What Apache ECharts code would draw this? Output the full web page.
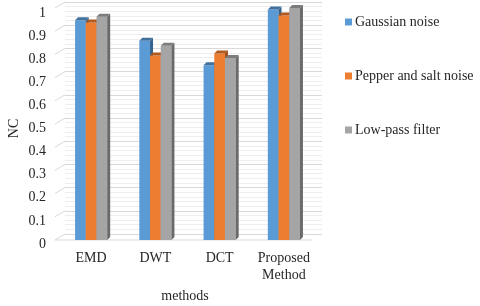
<!DOCTYPE html>
<html><head><meta charset="utf-8">
<script src="https://cdn.jsdelivr.net/npm/echarts@6/dist/echarts.min.js"></script>
<style>html,body{margin:0;padding:0;background:#fff}#c{width:480px;height:306px}</style>
</head><body><div id="c"></div>
<script>
const categories = ['EMD', 'DWT', 'DCT', 'Proposed\nMethod'];
const seriesNames = ['Gaussian noise', 'Pepper and salt noise', 'Low-pass filter'];
const gaussian = [0.947, 0.859, 0.753, 0.993];
const pepperSalt = [0.937, 0.795, 0.804, 0.968];
const lowPass = [0.962, 0.837, 0.785, 1.0];
const yTicks = [0, 0.1, 0.2, 0.3, 0.4, 0.5, 0.6, 0.7, 0.8, 0.9, 1];

const frontColors = ['#5B9BD5', '#ED7D31', '#A5A5A5'];
const topColors = ['#41719C', '#B0591F', '#7C7C7C'];
const sideColors = ['#36648F', '#9E4F1B', '#6A6A6A'];
const FONT = '"Liberation Serif", "Times New Roman", serif';
const TXT = '#262626';
const FS = 14;

function make3D(i) {
  return function (params, api) {
    const cat = api.value(0), val = api.value(1);
    const base = api.coord([cat, 0]);
    const topP = api.coord([cat, val]);
    const band = api.size([1, 0])[0];
    const w = band * 0.5 / 3;
    const x = base[0] - 1.5 * w + i * w;
    const yb = base[1], yt = topP[1];
    const dx = 3, dy = 3;
    return {
      type: 'group', children: [
        { type: 'rect', shape: { x: x, y: yt, width: w, height: yb - yt }, style: { fill: frontColors[i] } },
        { type: 'polygon', shape: { points: [[x, yt], [x + dx, yt - dy], [x + w + dx, yt - dy], [x + w, yt]] }, style: { fill: topColors[i] } },
        { type: 'polygon', shape: { points: [[x + w, yt], [x + w + dx, yt - dy], [x + w + dx, yb - dy], [x + w, yb]] }, style: { fill: sideColors[i] } }
      ]
    };
  };
}

function sideWall(params, api) {
  const v = api.value(1);
  const p = api.coord([0, v]);
  const x0 = params.coordSys.x;
  const children = [
    { type: 'line', shape: { x1: x0 - 4, y1: p[1], x2: x0 + 6, y2: p[1] - 6 }, style: { stroke: '#D9D9D9', lineWidth: 1 } }
  ];
  if (v === 0) {
    children.push({ type: 'line', shape: { x1: x0 - 4, y1: p[1], x2: x0 + params.coordSys.width - 4, y2: p[1] }, style: { stroke: '#D9D9D9', lineWidth: 1 } });
  }
  return { type: 'group', children: children };
}

const allData = [gaussian, pepperSalt, lowPass];
const chart = echarts.init(document.getElementById('c'), null, { renderer: 'canvas' });
chart.setOption({
  animation: false,
  backgroundColor: '#fff',
  textStyle: { fontFamily: FONT },
  grid: [
    { left: 65, right: 158, top: 2, bottom: 72, outerBoundsMode: 'none', containLabel: false },
    { left: 59, right: 164, top: 8, bottom: 66, outerBoundsMode: 'none', containLabel: false },
    { left: 59, right: 164, top: 13, bottom: 62, outerBoundsMode: 'none', containLabel: false }
  ],
  legend: {
    orient: 'vertical', left: 345, top: 15, padding: 0,
    itemWidth: 7, itemHeight: 7, itemGap: 40, icon: 'rect',
    textStyle: { fontFamily: FONT, fontSize: FS, color: TXT, padding: [0, 0, 0, -2] },
    data: seriesNames
  },
  xAxis: [
    { type: 'category', gridIndex: 0, data: categories, show: false },
    {
      type: 'category', gridIndex: 1, data: categories,
      axisLine: { show: false }, axisTick: { show: false },
      axisLabel: { fontFamily: FONT, fontSize: FS, color: TXT, lineHeight: 17, margin: 10, interval: 0 },
      name: 'methods', nameLocation: 'middle', nameGap: 49,
      nameTextStyle: { fontFamily: FONT, fontSize: FS, color: TXT, padding: [0, 5, 0, 0] }
    },
    { type: 'category', gridIndex: 2, data: categories, show: false }
  ],
  yAxis: [
    {
      type: 'value', gridIndex: 0, min: 0, max: 1, interval: 0.1,
      axisLine: { show: false }, axisTick: { show: false }, axisLabel: { show: false },
      splitLine: { lineStyle: { color: '#D9D9D9' } },
      minorTick: { show: false, splitNumber: 5 },
      minorSplitLine: { show: true, lineStyle: { color: '#EEEEEE' } }
    },
    {
      type: 'value', gridIndex: 1, min: 0, max: 1, interval: 0.1,
      axisLine: { show: false }, axisTick: { show: false }, splitLine: { show: false },
      axisLabel: { show: false }
    },
    {
      type: 'value', gridIndex: 2, min: 0, max: 1, interval: 0.1,
      axisLine: { show: false }, axisTick: { show: false }, splitLine: { show: false },
      axisLabel: { fontFamily: FONT, fontSize: FS, color: TXT, margin: 13 },
      name: 'NC', nameLocation: 'middle', nameGap: 38, nameRotate: 90, nameMoveOverlap: false,
      nameTextStyle: { fontFamily: FONT, fontSize: FS, color: TXT }
    }
  ],
  series: [
    {
      type: 'custom', name: '_wall', xAxisIndex: 1, yAxisIndex: 1, silent: true, z: 1,
      renderItem: sideWall, data: yTicks.map(v => [0, v]), legendHoverLink: false
    }
  ].concat(allData.map((d, i) => ({
    type: 'custom', name: seriesNames[i], xAxisIndex: 1, yAxisIndex: 1, z: 3,
    itemStyle: { color: frontColors[i] },
    renderItem: make3D(i),
    encode: { x: 0, y: 1 },
    data: d.map((v, k) => [k, v])
  })))
});
</script></body></html>
